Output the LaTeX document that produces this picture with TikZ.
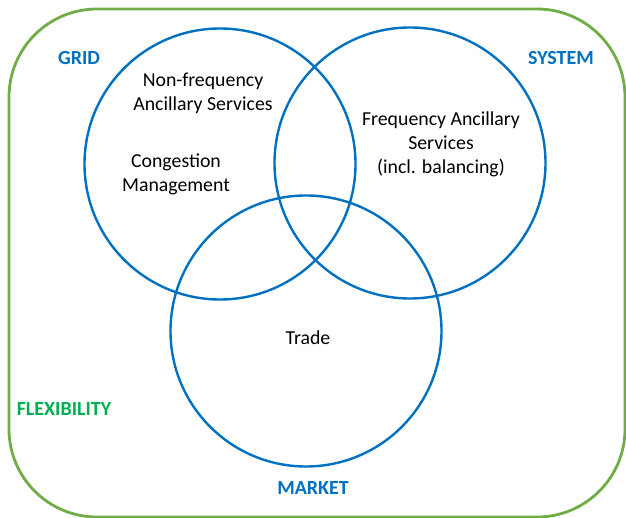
\documentclass[tikz,border=0pt]{standalone}
\usepackage{fontspec}
\setmainfont{Carlito}
\usepackage{xcolor}
\definecolor{ringblue}{RGB}{0,112,192}
\definecolor{framegreen}{RGB}{112,173,71}
\definecolor{flexgreen}{RGB}{0,176,80}
\begin{document}
\begin{tikzpicture}[x=1pt,y=-1pt]
\tikzstyle{every node}=[font=\fontsize{19.8}{24}\selectfont, align=center]
\tikzstyle{ring}=[draw=ringblue, line width=2.4pt, circle, minimum size=271pt, inner sep=0pt]
\tikzstyle{area}=[font=\fontsize{20}{24}\selectfont\bfseries, text=ringblue]
\useasboundingbox (0,0) rectangle (626,518);
\draw[framegreen, line width=2.8pt, rounded corners=88pt] (9,9) rectangle (625,517);
\node [ring] (grid) at (220,164) {};
\node [ring] (system) at (410,163) {};
\node [ring] (market) at (306,331) {};
\node [area] (gridlabel) at (79,58) {GRID};
\node [area] (systemlabel) at (561,58) {SYSTEM};
\node [area] (marketlabel) at (313,488) {MARKET};
\node [area, text=flexgreen] (flexlabel) at (64,409) {FLEXIBILITY};
\node (nonfreq) at (203,93) {Non-frequency\\Ancillary Services};
\node (congestion) at (176,174) {Congestion\\Management};
\node (freq) at (441,144) {Frequency Ancillary\\Services\\(incl. balancing)};
\node (trade) at (308,338) {Trade};
\end{tikzpicture}
\end{document}
